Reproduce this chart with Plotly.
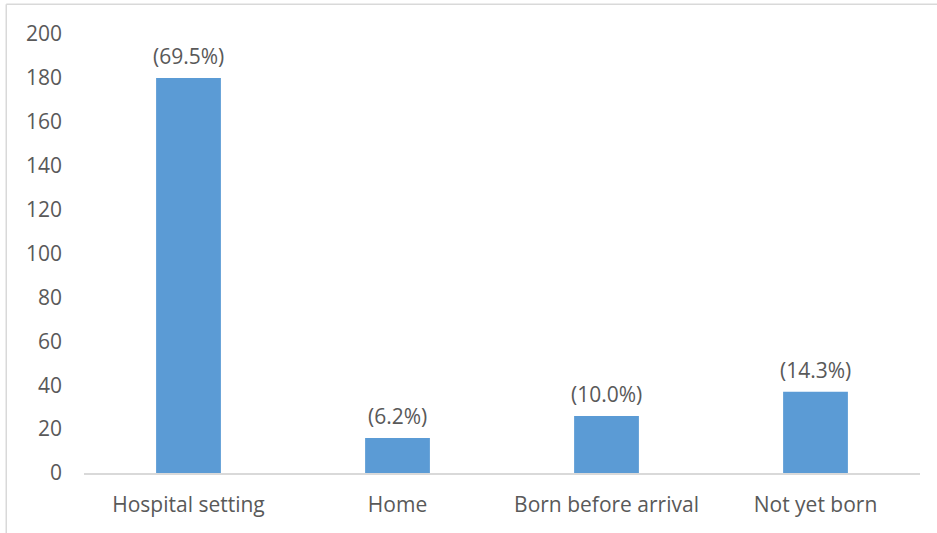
import plotly.graph_objects as go

# Place of delivery: counts and share of total
categories = ["Hospital setting", "Home", "Born before arrival", "Not yet born"]
counts = [180, 16, 26, 37]
shares = ["(69.5%)", "(6.2%)", "(10.0%)", "(14.3%)"]
y_ticks = list(range(0, 201, 20))

BAR = "#5B9BD5"
TEXT = "#595959"
LINE = "#D9D9D9"
FONT = "Open Sans"
SIZE = 21

fig = go.Figure(
    go.Bar(
        x=categories,
        y=counts,
        marker=dict(color=BAR, line=dict(width=0)),
        width=0.31,
        hoverinfo="x+y",
    )
)

for cat, val, lab in zip(categories, counts, shares):
    fig.add_annotation(
        x=cat, y=val, text=lab, showarrow=False,
        yanchor="middle", yshift=22,
        font=dict(family=FONT, size=SIZE, color=TEXT),
    )

# Chart-area frame (top and left edges)
fig.add_shape(type="line", xref="paper", yref="paper",
              x0=-0.093, x1=1.1, y0=1.068, y1=1.068,
              line=dict(color=LINE, width=1.5))
fig.add_shape(type="line", xref="paper", yref="paper",
              x0=-0.093, x1=-0.093, y0=1.068, y1=-0.2,
              line=dict(color=LINE, width=1.5))

fig.update_layout(
    width=937, height=533,
    margin=dict(l=84, r=17, t=34, b=60),
    paper_bgcolor="white", plot_bgcolor="white",
    showlegend=False,
    font=dict(family=FONT, size=SIZE, color=TEXT),
    xaxis=dict(
        showline=True, linecolor=LINE, linewidth=1.5,
        showgrid=False, ticks="", ticklabelstandoff=12,
        tickfont=dict(family=FONT, size=SIZE, color=TEXT),
    ),
    yaxis=dict(
        range=[0, 200], tickvals=y_ticks,
        showline=False, showgrid=False, zeroline=False, ticks="",
        ticklabelstandoff=21,
        tickfont=dict(family=FONT, size=SIZE, color=TEXT),
    ),
)

fig.write_html("out.html")
